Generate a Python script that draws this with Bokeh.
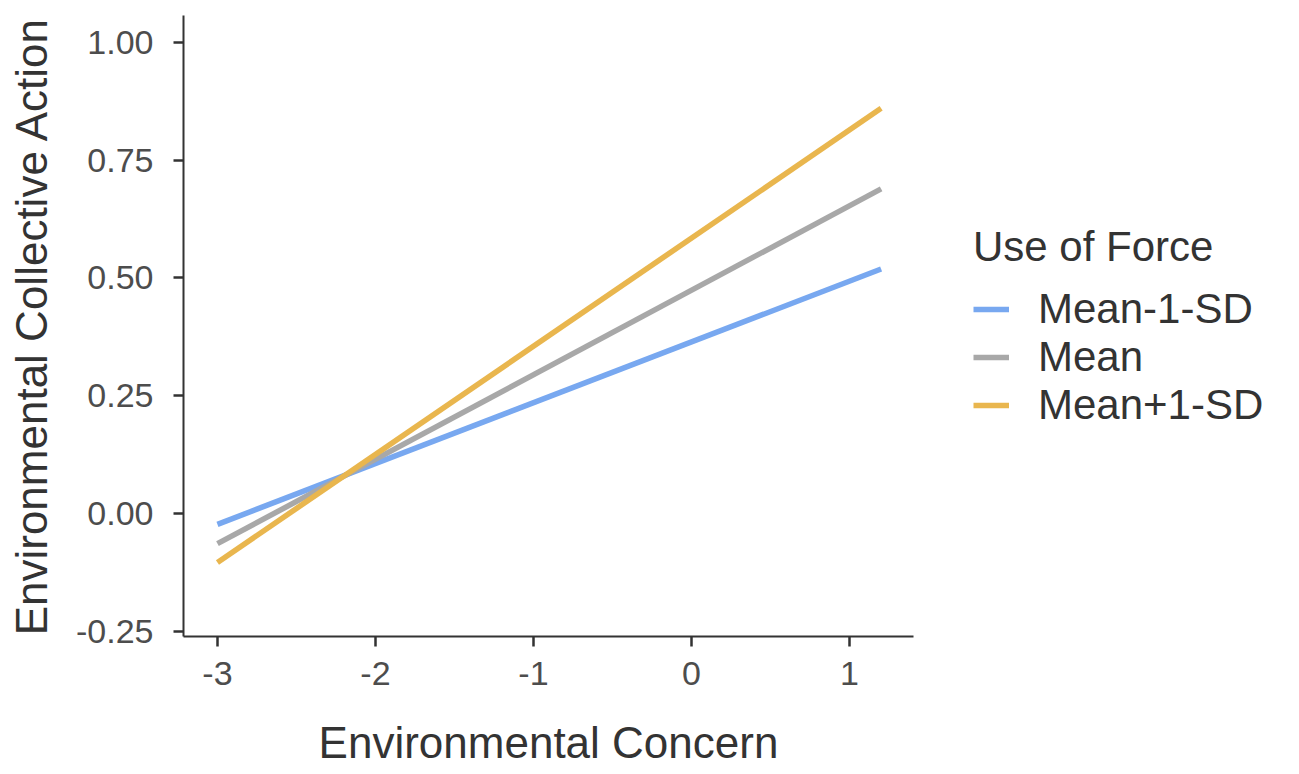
from bokeh.plotting import figure
from bokeh.models import Range1d, FixedTicker, Legend, LegendItem
from bokeh.embed import file_html
from bokeh.resources import INLINE

# ---- data ----
x_vals = [-3.0, 1.2]
low_sd = [-0.023, 0.519]     # Mean-1-SD
mean_v = [-0.064, 0.689]     # Mean
high_sd = [-0.104, 0.860]    # Mean+1-SD
series_names = ["Mean-1-SD", "Mean", "Mean+1-SD"]
series_colors = ["#78A8F0", "#A8A8A8", "#E9B64E"]
x_ticks = [-3, -2, -1, 0, 1]
x_tick_labels = ["-3", "-2", "-1", "0", "1"]
y_ticks = [-0.25, 0.0, 0.25, 0.5, 0.75, 1.0]
y_tick_labels = ["-0.25", "0.00", "0.25", "0.50", "0.75", "1.00"]

FONT = "Liberation Sans"

p = figure(
    frame_width=730, frame_height=621,
    x_range=Range1d(-3.215, 1.405), y_range=Range1d(-0.261, 1.057),
    output_backend="svg", toolbar_location=None,
    min_border_left=183, min_border_top=15, min_border_bottom=110, min_border_right=10,
)
p.grid.visible = False
p.outline_line_color = None
p.background_fill_color = "white"

renderers = []
for ys, c in zip([low_sd, mean_v, high_sd], series_colors):
    r = p.line(x_vals, ys, line_color=c, line_width=5.5)
    renderers.append(r)

p.xaxis.ticker = FixedTicker(ticks=x_ticks)
p.yaxis.ticker = FixedTicker(ticks=y_ticks)
p.xaxis.major_label_overrides = {t: s for t, s in zip(x_ticks, x_tick_labels)}
p.yaxis.major_label_overrides = {t: s for t, s in zip(y_ticks, y_tick_labels)}

for ax in (p.xaxis, p.yaxis):
    ax.axis_line_width = 2
    ax.axis_line_color = "#333333"
    ax.major_tick_line_width = 2.5
    ax.major_tick_line_color = "#333333"
    ax.major_tick_out = 10
    ax.major_tick_in = 0
    ax.minor_tick_line_color = None
    ax.major_label_text_font = FONT
    ax.major_label_text_font_size = "34px"
    ax.major_label_text_color = "#4d4d4d"
    ax.axis_label_text_font = FONT
    ax.axis_label_text_font_size = "44px"
    ax.axis_label_text_font_style = "normal"
    ax.axis_label_text_color = "#333333"

p.xaxis.axis_label = "Environmental Concern"
p.yaxis.axis_label = "Environmental Collective Action"
p.xaxis.major_label_standoff = 15
p.yaxis.major_label_standoff = 20
p.xaxis.axis_label_standoff = 30
p.yaxis.axis_label_standoff = 17

legend = Legend(
    items=[LegendItem(label=n, renderers=[r]) for n, r in zip(series_names, renderers)],
    location="center_left",
    title="Use of Force",
    title_text_font=FONT, title_text_font_size="42px", title_text_font_style="normal",
    title_text_color="#333333",
    label_text_font=FONT, label_text_font_size="42px", label_text_color="#333333",
    glyph_width=36, glyph_height=48, label_height=48, spacing=0,
    label_standoff=29, title_standoff=14,
    margin=60, padding=10,
    border_line_color=None, background_fill_alpha=0,
)
p.add_layout(legend, "right")

open("out.html", "w").write(file_html(p, INLINE))
